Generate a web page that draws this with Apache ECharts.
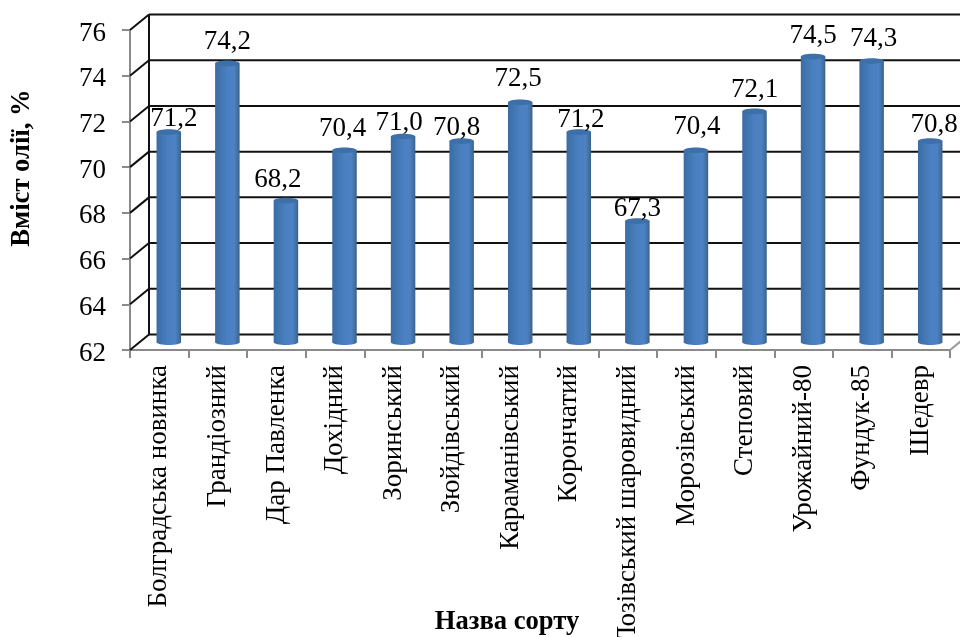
<!DOCTYPE html>
<html>
<head>
<meta charset="utf-8">
<style>html,body{margin:0;padding:0;background:#fff}#chart{width:960px;height:637px}</style>
<script src="https://cdn.jsdelivr.net/npm/echarts@6/dist/echarts.min.js"></script>
</head>
<body>
<div id="chart"></div>
<script>
const categories = ['Болградська новинка','Грандіозний','Дар Павленка','Дохідний','Зоринський','Зюйдівський','Караманівський','Корончатий','Лозівський шаровидний','Морозівський','Степовий','Урожайний-80','Фундук-85','Шедевр'];
const oilContent = [71.2,74.2,68.2,70.4,71.0,70.8,72.5,71.2,67.3,70.4,72.1,74.5,74.3,70.8];
const wallTicks = [62,64,66,68,70,72,74,76];
// hand-placed label shifts [dx, dy] from the top of each cylinder
const labelShift = [[5,-13],[0,-21],[-8,-21],[-2,-21],[-4,-13.5],[-5,-13],[-2,-23],[2,-12],[0,-12],[1,-23],[0,-21],[0,-20.5],[2,-22],[4,-16]];

const SERIF = '"Liberation Serif","Times New Roman",serif';
const DEPTH_X = 19, DEPTH_Y = 15.5;   // oblique offset of the back wall
const BAR_RX = 12.25, BAR_RY = 2.8;

function renderWall(params, api) {
  const cs = params.coordSys;
  const p = api.coord([0, api.value(1)]);
  const y = p[1];
  const left = cs.x, right = cs.x + cs.width;
  const line = { stroke: '#111', lineWidth: 2 };
  const children = [
    { type: 'line', shape: { x1: left, y1: y, x2: left + DEPTH_X, y2: y - DEPTH_Y }, style: line },
    { type: 'line', shape: { x1: left + DEPTH_X, y1: y - DEPTH_Y, x2: right + DEPTH_X, y2: y - DEPTH_Y }, style: line }
  ];
  if (params.dataIndex === 0) {
    const top = api.coord([0, wallTicks[wallTicks.length - 1]])[1];
    children.push({ type: 'line', shape: { x1: left + DEPTH_X, y1: y - DEPTH_Y, x2: left + DEPTH_X, y2: top - DEPTH_Y }, style: line });
    children.push({ type: 'line', shape: { x1: right, y1: y, x2: right + DEPTH_X, y2: y - DEPTH_Y }, style: { stroke: '#9a9a9a', lineWidth: 2 } });
  }
  return { type: 'group', children };
}

function renderCylinder(params, api) {
  const i = api.value(0), v = api.value(1);
  const base = api.coord([i, 62]);
  const top = api.coord([i, v]);
  const cx = base[0] + DEPTH_X / 2;
  const yb = base[1] - DEPTH_Y / 2;
  const yt = top[1] - DEPTH_Y / 2;
  const side = new echarts.graphic.LinearGradient(0, 0, 1, 0, [
    { offset: 0, color: '#3a6ba3' },
    { offset: 0.2, color: '#4175b0' },
    { offset: 0.5, color: '#4a80c1' },
    { offset: 0.78, color: '#4c82c3' },
    { offset: 0.92, color: '#416f9f' },
    { offset: 1, color: '#3b6288' }
  ]);
  const shift = labelShift[params.dataIndex];
  return {
    type: 'group',
    children: [
      { type: 'ellipse', shape: { cx, cy: yb, rx: BAR_RX, ry: BAR_RY }, style: { fill: side } },
      { type: 'rect', shape: { x: cx - BAR_RX, y: yt, width: BAR_RX * 2, height: yb - yt }, style: { fill: side } },
      { type: 'ellipse', shape: { cx, cy: yt, rx: BAR_RX, ry: BAR_RY }, style: { fill: '#3d6fa9' } },
      { type: 'text', z2: 50, style: { x: cx + shift[0], y: yt + shift[1], text: v.toFixed(1).replace('.', ','), align: 'center', verticalAlign: 'middle', font: '27px ' + SERIF, fill: '#000' } }
    ]
  };
}

const chart = echarts.init(document.getElementById('chart'), null, { renderer: 'canvas' });
chart.setOption({
  animation: false,
  backgroundColor: '#fff',
  grid: { left: 130, right: 10, top: 30, bottom: 287, containLabel: false, outerBoundsMode: 'none' },
  xAxis: {
    type: 'category',
    data: categories,
    boundaryGap: true,
    axisLine: { lineStyle: { color: '#8a8a8a', width: 2 } },
    axisTick: { show: true, length: 8, alignWithLabel: false, lineStyle: { color: '#8a8a8a', width: 2 } },
    axisLabel: { interval: 0, rotate: 90, margin: 15, hideOverlap: false, fontFamily: SERIF, fontSize: 27, color: '#000' },
    splitLine: { show: false }
  },
  yAxis: {
    type: 'value',
    min: 62, max: 76, interval: 2,
    axisLine: { show: true, lineStyle: { color: '#8a8a8a', width: 2 } },
    axisTick: { show: true, length: 8, lineStyle: { color: '#8a8a8a', width: 2 } },
    axisLabel: {
      margin: 24,
      formatter: '{tick|{value}}',
      rich: { tick: { fontFamily: SERIF, fontSize: 27, color: '#000', padding: [7, 0, 0, 0] } }
    },
    splitLine: { show: false }
  },
  series: [
    { type: 'custom', clip: false, z: 2, renderItem: renderWall, encode: { x: 0, y: 1 }, silent: true,
      data: wallTicks.map(t => [0, t]) },
    { type: 'custom', clip: false, z: 3, renderItem: renderCylinder, encode: { x: 0, y: 1 }, silent: true,
      data: oilContent.map((v, i) => [i, v]) }
  ],
  graphic: [
    { type: 'text', z: 10, x: 507, y: 622, style: { text: 'Назва сорту', align: 'center', verticalAlign: 'middle', font: 'bold 26.6px ' + SERIF, fill: '#000' } },
    { type: 'text', z: 10, x: 22, y: 168, rotation: Math.PI / 2, style: { text: 'Вміст олії, %', align: 'center', verticalAlign: 'middle', font: 'bold 26.6px ' + SERIF, fill: '#000' } }
  ]
});
</script>
</body>
</html>
